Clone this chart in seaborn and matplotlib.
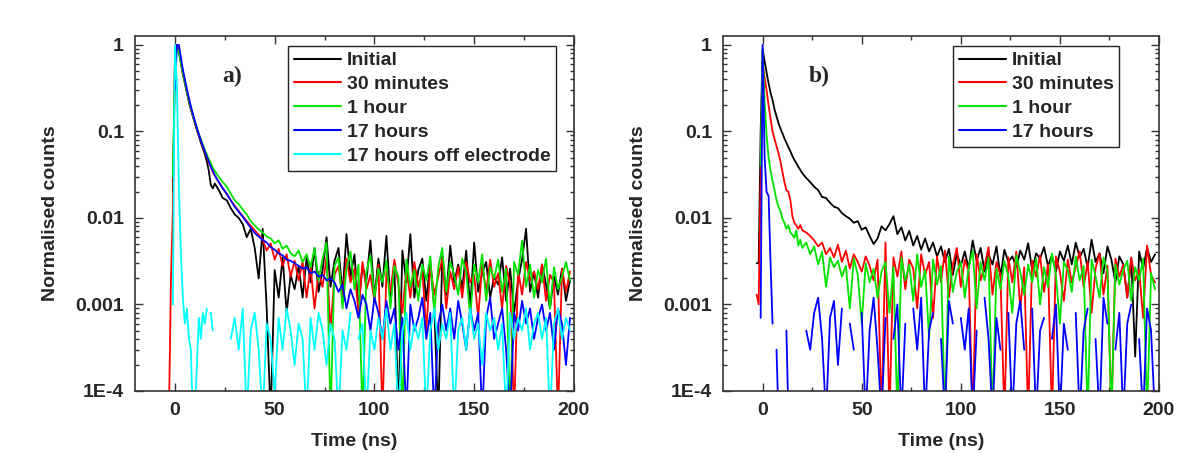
import numpy as np
import pandas as pd
import matplotlib
matplotlib.use("Agg")
import matplotlib.pyplot as plt
import matplotlib.ticker as mticker
import seaborn as sns

nan = np.nan
L = 0.00005  # channel dropping below the 1E-4 axis floor

# ---------------- time grid (ns) ----------------
time_ns = [-3, -2, -1, 0, 1, 2, 3, 4, 5, 6, 7, 8, 9, 10, 11, 12, 13, 14, 15, 16, 17, 18, 19, 20,
           22, 24, 26, 28, 30, 32, 34, 36, 38, 40,
           42, 44, 46, 48, 50, 52, 54, 56, 58, 60,
           62, 64, 66, 68, 70, 72, 74, 76, 78, 80,
           82, 84, 86, 88, 90, 92, 94, 96, 98, 100,
           102, 104, 106, 108, 110, 112, 114, 116, 118, 120,
           122, 124, 126, 128, 130, 132, 134, 136, 138, 140,
           142, 144, 146, 148, 150, 152, 154, 156, 158, 160,
           162, 164, 166, 168, 170, 172, 174, 176, 178, 180,
           182, 184, 186, 188, 190, 192, 194, 196, 198]

# ---------------- panel a ----------------
a_initial = [nan, nan, 0.02, 0.6, 1.0, 0.85, 0.62, 0.46, 0.36, 0.28, 0.22, 0.18, 0.15, 0.125, 0.105, 0.088,
             0.075, 0.064, 0.055, 0.045, 0.035, 0.024, 0.022, 0.025,
             0.021, 0.017, 0.016, 0.013, 0.011, 0.010, 0.0085, 0.006, 0.0075, 0.0045,
             0.002, 0.0075, 0.0009, L, 0.0025, 0.0012, 0.0035, 0.0008, 0.0022, 0.0015,
             0.0028, 0.0012, 0.0035, 0.0018, 0.0045, 0.0014, 0.0025, 0.006, 0.0016, 0.0032,
             0.0045, 0.0013, 0.0065, 0.0021, 0.0038, 0.0009, 0.0028, 0.0019, 0.0055, 0.0012,
             0.0034, 0.0016, 0.0062, 0.0011, 0.0028, L, 0.0042, 0.0018, 0.0065, 0.0012,
             0.0025, 0.0034, 0.0011, 0.0032, 0.0009, L, 0.0036, 0.0013, 0.0048, 0.0018,
             0.0029, 0.0015, 0.0042, 0.0009, 0.0052, 0.0014, 0.0023, 0.0031, 0.0012, 0.0021,
             0.0017, 0.0035, 0.0011, 0.0026, 0.0008, 0.0019, 0.0033, 0.0075, 0.0014, 0.0024,
             0.0012, 0.0029, 0.0017, 0.0009, 0.0021, 0.0013, 0.0026, 0.0011, 0.0019]

a_30min = [L, 0.0018, 0.013, 0.7, 0.95, 0.85, 0.63, 0.47, 0.37, 0.29, 0.23, 0.185, 0.152, 0.127, 0.107, 0.091,
           0.078, 0.067, 0.058, 0.050, 0.044, 0.039, 0.034, 0.031,
           0.026, 0.022, 0.019, 0.016, 0.0138, 0.012, 0.0105, 0.0092, 0.0081, 0.0072,
           0.0064, 0.0056, 0.0042, 0.0051, 0.0033, 0.0044, 0.0028, 0.0038, 0.0021, 0.0032,
           0.0019, 0.0031, 0.0012, 0.0027, 0.0009, 0.0024, 0.0016, 0.0035, 0.0005, 0.0022,
           0.0028, 0.0012, 0.0034, 0.0018, 0.0026, 0.0008, 0.0031, 0.0015, 0.0022, 0.0011,
           0.0029, L, 0.0024, 0.0014, 0.0033, 0.0017, 0.0008, 0.0026, 0.0012, 0.0031,
           0.0016, 0.0025, 0.0005, 0.0028, 0.0013, 0.0021, 0.0034, 0.0009, 0.0024, 0.0015,
           0.0027, 0.0012, 0.0031, 0.0018, 0.0022, 0.0007, 0.0029, 0.0014, 0.0033, 0.0016,
           0.0023, 0.0009, 0.0028, 0.0017, L, 0.0025, 0.0013, 0.0031, 0.0019, 0.0024,
           0.0015, 0.0029, 0.0011, 0.0022, 0.0018, L, 0.0026, 0.0014, 0.0024]

a_1hour = [nan, nan, 0.03, 0.55, 0.9, 0.82, 0.62, 0.47, 0.37, 0.29, 0.23, 0.19, 0.155, 0.13, 0.11, 0.094,
           0.081, 0.070, 0.061, 0.054, 0.048, 0.043, 0.038, 0.035,
           0.030, 0.026, 0.023, 0.019, 0.016, 0.0145, 0.0125, 0.011, 0.0092, 0.0082,
           0.0074, 0.0068, 0.0061, 0.0058, 0.0051, 0.0055, 0.0044, 0.0048, 0.0039, 0.0036,
           0.0042, 0.0031, 0.0038, 0.0027, 0.0045, 0.0019, 0.0034, 0.0052, L, 0.0028,
           0.0035, 0.0009, 0.0026, 0.0041, 0.0015, 0.0029, L, 0.0024, 0.0037, 0.0012,
           0.0026, 0.0018, 0.0032, 0.0009, 0.0028, 0.0021, L, 0.0033, 0.0016, 0.0025,
           0.0011, 0.0029, 0.0019, 0.0036, 0.0008, 0.0027, 0.0045, 0.0014, 0.0031, 0.0022,
           0.0013, 0.0034, 0.0024, 0.0007, 0.0029, 0.0018, 0.0038, 0.0011, 0.0027, 0.0020,
           0.0033, 0.0014, 0.0026, L, 0.0031, 0.0022, 0.0055, 0.0016, 0.0029, 0.0012,
           0.0025, 0.0018, 0.0034, 0.0009, 0.0027, 0.0015, 0.0021, 0.0031, 0.0019]

a_17hours = [nan, nan, nan, 0.3, 1.0, 1.0, 0.72, 0.52, 0.40, 0.31, 0.245, 0.195, 0.16, 0.132, 0.11, 0.093,
             0.079, 0.068, 0.059, 0.051, 0.045, 0.039, 0.035, 0.031,
             0.026, 0.022, 0.019, 0.016, 0.0135, 0.0118, 0.0103, 0.0089, 0.0077, 0.0067,
             0.0061, 0.0056, 0.0052, 0.0046, 0.0043, 0.0039, 0.0037, 0.0033, 0.0032, 0.0030,
             0.0028, 0.0026, 0.0027, 0.0023, 0.0024, 0.0021, 0.0022, 0.0019, 0.0020, 0.0018,
             0.0014, 0.0017, 0.0009, 0.0015, 0.0011, 0.0007, 0.0013, 0.0010, 0.0005, 0.0012,
             0.0008, 0.0004, 0.0011, 0.0006, 0.0009, 0.0003, 0.0007, L, 0.0010, 0.0005,
             0.0007, 0.0012, 0.0004, 0.0008, L, 0.0006, 0.0010, 0.0005, 0.0009, 0.0004,
             0.0011, 0.0006, 0.0003, 0.0009, 0.0005, 0.0008, L, 0.0007, 0.0012, 0.0004,
             0.0006, 0.0009, 0.0003, L, 0.0008, 0.0005, 0.0011, 0.0006, 0.0009, 0.0004,
             0.0007, 0.0010, 0.0005, 0.0008, 0.0003, 0.0009, 0.0006, 0.0002, 0.0007]

a_17hours_off = [nan, nan, 0.001, 1.0, 0.35, 0.022, 0.004, 0.0012, 0.0006, 0.0009, 0.0004, 0.0003, L, L,
                 0.0002, 0.0007, 0.0004, 0.0008, 0.0006, 0.0009, nan, 0.0008, 0.0005, nan,
                 nan, 0.00022, nan, 0.0004, 0.0007, 0.0003, 0.0009, L, 0.0005, 0.0008,
                 0.0003, L, 0.0006, 0.0004, 0.00009, 0.0007, 0.0003, 0.0009, 0.0005, 0.0002,
                 0.0006, 0.0004, L, 0.0007, 0.0003, 0.0008, 0.0005, 0.0002, 0.0006, 0.0004,
                 L, 0.0005, 0.0003, 0.0008, nan, 0.0004, 0.0006, L, 0.0005, 0.0003,
                 0.0007, 0.0004, 0.0009, 0.0003, 0.0006, L, 0.0005, 0.0008, 0.0003, 0.0006,
                 0.0004, 0.0007, L, 0.0005, 0.0009, 0.0003, 0.0006, 0.0004, 0.0008, L,
                 0.0005, 0.0007, 0.0003, 0.0009, 0.0004, 0.0006, 0.0002, 0.0008, 0.0005, 0.0007,
                 0.0003, 0.0006, L, 0.0008, 0.0004, 0.0007, 0.0005, 0.0009, 0.0003, 0.0006,
                 0.0008, 0.0004, 0.0007, L, 0.0006, 0.0009, 0.0004, 0.0007, 0.0005]

# ---------------- panel b ----------------
b_initial = [0.003, 0.003, 0.1, 0.9, 0.65, 0.48, 0.36, 0.28, 0.23, 0.18, 0.15, 0.125, 0.108, 0.095, 0.083, 0.074,
             0.066, 0.059, 0.052, 0.047, 0.043, 0.039, 0.036, 0.033,
             0.029, 0.026, 0.023, 0.021, 0.0175, 0.017, 0.015, 0.0135, 0.013, 0.0114,
             0.0105, 0.0098, 0.0088, 0.0092, 0.0073, 0.0078, 0.0062, 0.0050, 0.0058, 0.0080,
             0.0072, 0.0085, 0.0105, 0.0065, 0.0078, 0.0055, 0.0071, 0.0048, 0.0062, 0.0043,
             0.0058, 0.0041, 0.0052, 0.0036, 0.0047, 0.0031, 0.0044, 0.0022, 0.0039, 0.0028,
             0.0041, 0.0026, 0.0055, 0.0032, 0.0045, 0.0024, 0.0038, 0.0029, 0.0047, 0.0021,
             0.0043, 0.0031, 0.0036, 0.0027, 0.0042, 0.0033, 0.0051, 0.0025, 0.0039, 0.0034,
             0.0046, 0.0028, 0.0037, 0.0024, 0.0041, 0.0032, 0.0048, 0.0029, 0.0052, 0.0035,
             0.0044, 0.0027, 0.0056, 0.0031, 0.0039, 0.0023, 0.0047, 0.0033, 0.0018, 0.0036,
             0.0029, 0.0012, 0.0034, 0.00025, 0.0041, 0.0026, 0.0045, 0.0031, 0.0038]

b_30min = [0.0013, 0.001, 0.03, 0.6, 0.42, 0.3, 0.2, 0.14, 0.1, 0.082, 0.068, 0.056, 0.045, 0.034, 0.026, 0.021,
           0.020, 0.016, 0.0105, 0.0088, 0.0082, 0.0075, 0.0083, 0.0072,
           0.0068, 0.0062, 0.0055, 0.0047, 0.0052, 0.0038, 0.0045, 0.0035, 0.0049, 0.0031,
           0.0042, 0.0026, 0.0038, 0.0031, 0.0024, 0.0036, 0.0028, 0.0019, 0.0033, L,
           0.0052, L, 0.0035, 0.0021, 0.0041, 0.0015, 0.0033, 0.0026, 0.0009, 0.0038,
           0.0022, 0.0031, 0.0007, 0.0036, 0.0018, 0.0042, 0.0012, 0.0029, 0.0045, 0.0016,
           0.0033, 0.0024, L, 0.0038, 0.0019, 0.0028, 0.0046, 0.0013, 0.0031, 0.0022,
           L, 0.0035, 0.0018, 0.0041, 0.0009, 0.0027, L, 0.0032, 0.0021, 0.0037,
           0.0014, 0.0029, L, 0.0036, 0.0024, 0.0011, 0.0033, 0.0018, 0.0027, 0.0041,
           0.0016, 0.0031, 0.0008, 0.0026, 0.0039, 0.0013, 0.0028, L, 0.0034, 0.0021,
           0.0029, 0.0012, 0.0035, 0.0019, 0.0025, 0.0007, 0.0048, 0.0022, 0.0018]

b_1hour = [nan, nan, 0.04, 0.9, 0.22, 0.09, 0.05, 0.035, 0.027, 0.021, 0.016, 0.0135, 0.012, 0.0098, 0.0088, 0.0075,
           0.0082, 0.0068, 0.0064, 0.0059, 0.0072, 0.0048, 0.0056, 0.0045,
           0.0052, 0.0038, 0.0047, 0.0029, 0.0041, 0.0016, 0.0035, 0.0027, 0.0032, 0.0021,
           0.0028, 0.0009, 0.0034, 0.0022, 0.0006, 0.0030, 0.0018, 0.0026, 0.0012, 0.0024,
           0.0031, 0.0008, 0.0027, L, 0.0035, 0.0019, 0.0029, 0.0011, 0.0038, 0.0016,
           0.0025, 0.0004, 0.0033, 0.0017, 0.0028, L, 0.0036, 0.0014, 0.0024, 0.0031,
           0.0012, 0.0027, 0.0042, 0.0009, 0.0031, 0.0019, 0.0035, L, 0.0026, 0.0015,
           0.0032, 0.0021, 0.0008, 0.0037, 0.0024, 0.0013, 0.0029, 0.0018, 0.0034, 0.0010,
           0.0027, 0.0016, 0.0039, 0.0022, 0.0006, 0.0031, 0.0025, 0.0014, 0.0036, 0.0019,
           0.0028, L, 0.0033, 0.0021, 0.0012, 0.0035, 0.0024, L, 0.0029, 0.0017,
           0.0025, 0.0032, 0.0011, 0.0027, 0.0019, 0.0034, L, 0.0023, 0.0015]

b_17hours = [nan, nan, 0.0007, 1.0, 0.05, 0.02, 0.018, 0.003, 0.0006, nan, 0.0003, L, nan, nan, nan, 0.0005,
             L, nan, nan, nan, nan, nan, nan, nan,
             0.0005, 0.0003, 0.0008, 0.0012, 0.0004, L, 0.0007, 0.0011, 0.0002, 0.0009,
             nan, 0.0006, 0.0003, nan, 0.0008, L, 0.0005, 0.0012, 0.0003, L,
             0.0007, nan, 0.0004, 0.0010, L, 0.0006, nan, 0.0009, 0.0003, 0.0012,
             L, 0.0005, 0.0008, nan, 0.0004, L, 0.0011, 0.0006, nan, 0.0007,
             0.0003, 0.0009, L, 0.0005, nan, 0.0012, 0.0004, L, 0.0007, 0.0003,
             nan, 0.0008, L, 0.0006, 0.0011, 0.0003, nan, 0.0009, L, 0.0005,
             0.0007, nan, 0.0004, 0.0010, L, 0.0006, 0.0003, nan, 0.0008, L,
             0.0005, 0.0009, nan, 0.0004, L, 0.0012, 0.0006, nan, 0.0003, 0.0008,
             L, 0.0006, 0.0010, nan, 0.0004, L, 0.0009, 0.0005, L]

labels_a = ["Initial", "30 minutes", "1 hour", "17 hours", "17 hours off electrode"]
labels_b = ["Initial", "30 minutes", "1 hour", "17 hours"]
series_a = [a_initial, a_30min, a_1hour, a_17hours, a_17hours_off]
series_b = [b_initial, b_30min, b_1hour, b_17hours]
colors = ["#000000", "#ff0000", "#00e400", "#0000ff", "#00ffff"]
panel_tags = ["a)", "b)"]
ytick_values = [1e-4, 1e-3, 1e-2, 1e-1, 1]
ytick_labels = ["1E-4", "0.001", "0.01", "0.1", "1"]
xtick_values = [0, 50, 100, 150, 200]


def long_frame(labels, series):
    rows = []
    for lab, vals in zip(labels, series):
        v = np.asarray(vals, dtype=float)
        seg = np.cumsum(np.isnan(v))
        for t, y, s in zip(time_ns, v, seg):
            if not np.isnan(y):
                rows.append((t, y, lab, f"{lab}_{s}"))
    return pd.DataFrame(rows, columns=["t", "v", "series", "unit"])


sns.set_theme(style="ticks")
plt.rcParams["font.family"] = ["Liberation Sans", "DejaVu Sans"]
plt.rcParams["font.weight"] = "bold"

fig = plt.figure(figsize=(12.01, 4.53), dpi=100)
ax_a = fig.add_axes([0.1124, 0.1369, 0.3655, 0.7836])
ax_b = fig.add_axes([0.6020, 0.1369, 0.3630, 0.7836])

spine_col = "#333333"
for ax, labels, series, tag, leg_x in [
        (ax_a, labels_a, series_a, panel_tags[0], 0.349),
        (ax_b, labels_b, series_b, panel_tags[1], 0.528)]:
    df = long_frame(labels, series)
    sns.lineplot(data=df, x="t", y="v", hue="series", units="unit", estimator=None,
                 sort=False, hue_order=labels, palette=colors[:len(labels)],
                 linewidth=1.3, ax=ax)
    ax.set_yscale("log")
    ax.set_xlim(-20, 200)
    ax.set_ylim(1e-4, 1.27)
    ax.yaxis.set_major_locator(mticker.FixedLocator(ytick_values))
    ax.yaxis.set_major_formatter(mticker.FixedFormatter(ytick_labels))
    ax.yaxis.set_minor_locator(mticker.LogLocator(base=10, subs=np.arange(2, 10), numticks=20))
    ax.yaxis.set_minor_formatter(mticker.NullFormatter())
    ax.xaxis.set_major_locator(mticker.FixedLocator(xtick_values))
    ax.xaxis.set_minor_locator(mticker.MultipleLocator(25))
    ax.tick_params(which="both", direction="in", top=True, right=True, color=spine_col, width=1.0)
    ax.tick_params(which="major", length=6, labelsize=14, pad=8)
    ax.tick_params(which="minor", length=3)
    for lab in ax.get_xticklabels() + ax.get_yticklabels():
        lab.set_fontweight("bold")
    for sp in ax.spines.values():
        sp.set_color(spine_col)
        sp.set_linewidth(1.2)
    ax.set_xlabel("Time (ns)", fontsize=14, fontweight="bold", labelpad=10)
    ax.set_ylabel("Normalised counts", fontsize=14, fontweight="bold", labelpad=12)
    ax.text(0.221, 0.885, tag, transform=ax.transAxes, ha="center", va="center",
            fontsize=17, fontweight="bold", family=["Liberation Serif", "DejaVu Serif"])
    leg = ax.legend(loc="upper left", bbox_to_anchor=(leg_x, 0.972), frameon=True,
                    fancybox=False, framealpha=1, edgecolor="#222222",
                    prop={"size": 14, "weight": "bold"}, handlelength=2.4,
                    handletextpad=0.3, labelspacing=0.32, borderpad=0.3,
                    borderaxespad=0)
    leg.get_frame().set_linewidth(1.0)
    for h in leg.get_lines():
        h.set_linewidth(1.5)

fig.savefig("out.png", dpi=100, facecolor="white")
